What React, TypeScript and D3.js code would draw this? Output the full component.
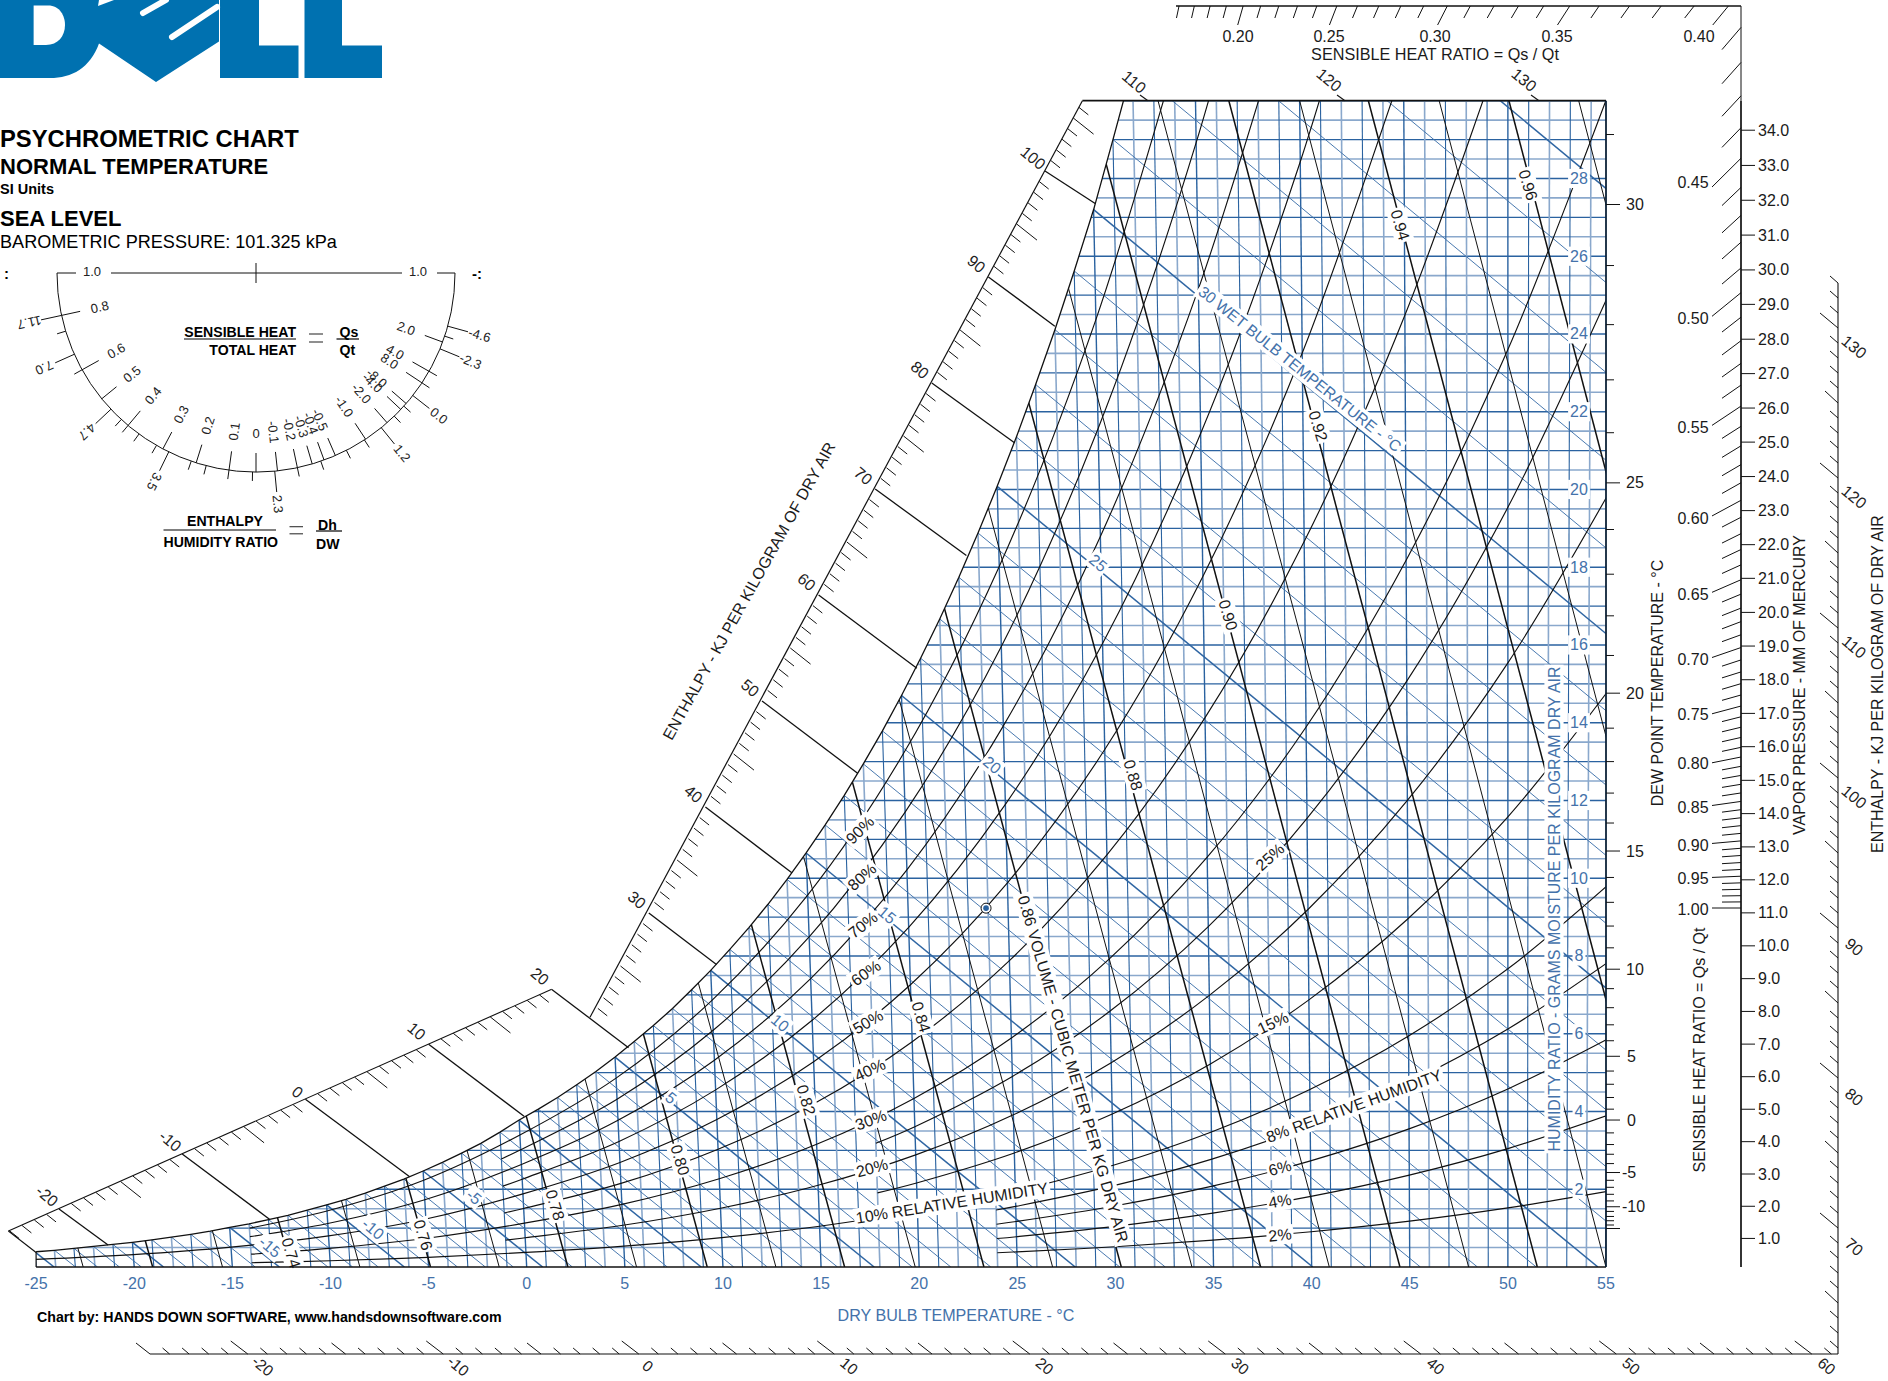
import React from "react";
import * as d3 from "d3";

// ---------- chart values ----------
const dryBulbTicks = [-25,-20,-15,-10,-5,0,5,10,15,20,25,30,35,40,45,50,55];
const humidityLabels = [2,4,6,8,10,12,14,16,18,20,22,24,26,28];
const satT = d3.range(-25, 36);
const satW = [.39,.43,.48,.53,.58,.635,.70,.77,.84,.92,1.02,1.11,1.22,1.33,1.46,1.60,1.74,1.90,2.08,2.26,2.47,2.69,2.93,3.18,3.47,3.78,4.06,4.36,4.69,5.03,5.40,5.80,6.21,6.65,7.13,7.63,8.17,8.73,9.33,9.97,10.65,11.37,12.13,12.94,13.79,14.70,15.66,16.67,17.74,18.88,20.08,21.35,22.70,24.11,25.62,27.20,29.0,30.85,32.7,34.6,36.6];

const tFrom25 = [-25,-20,-15,-10,-5,0,5,10,15,20,25,30,35,40,45,50,55];
const tFrom14 = [-14,-10,-5,0,5,10,15,20,25,30,35,40,45,50,55];
const tFrom1 = [-1,0,5,10,15,20,25,30,35,40,45,50,55];
const tFrom18 = [18,20,25,30,35,40,45,50,55];
const tFrom24 = [24,25,30,35,40,45,50,55];
const rh90 = [1.0,1.44,2.23,3.395,4.858,6.86,9.568,13.2,18.02,24.37,32.72];
const rh80 = [2.78,3.016,4.315,6.09,8.49,11.7,15.96,21.57,28.92,38.5];
const rh70 = [.78,1.12,1.73,2.637,3.772,5.32,7.416,10.215,13.92,18.79,25.16,33.42];
const rh60 = [2.08,2.259,3.23,4.556,6.346,8.735,11.9,16.04,21.44,28.43,37.45];
const rh50 = [.195,.318,.51,.8,1.235,1.882,2.69,3.793,5.28,7.26,9.88,13.31,17.76,23.51,30.9];
const rh40 = [1.39,1.505,2.15,3.03,4.216,5.796,7.88,10.6,14.13,18.66,24.48,31.86];
const rh30 = [.33,.48,.74,1.128,1.611,2.27,3.157,4.337,5.891,7.918,10.54,13.89,18.18,23.6,30.43];
const rh25 = [3.184,3.61,4.902,6.584,8.757,11.54,15.07,19.54,25.15];
const rh20 = [.69,.751,1.073,1.512,2.101,2.884,3.915,5.256,6.986,9.196,12,15.54,19.96];
const rh15 = [1.907,2.161,2.932,3.934,5.224,6.872,8.957,11.58,14.85];
const rh10 = [.11,.16,.247,.375,.536,.755,1.049,1.439,1.951,2.617,3.473,4.564,5.943,7.671,9.823];
const rh8 = [1.466,1.56,2.092,2.775,3.646,4.746,6.122,7.833];
const rh6 = [1.10,1.169,1.568,2.079,2.731,3.552,4.58,5.857];
const rh4 = [.733,.779,1.044,1.385,1.817,2.364,3.046,3.892];
const rh2 = [.366,.389,.521,.692,.907,1.179,1.52,1.94];

const volumes = [.71,.72,.73,.74,.75,.76,.77,.78,.79,.80,.81,.82,.83,.84,.85,.86,.87,.88,.89,.90,.91,.92,.93,.94,.95,.96,.97,.98];
const volumeTAtW0 = [-22.6,-19.06,-15.5,-12,-8.5,-4.9,-1.4,2.1,5.6,9.2,12.7,16.2,19.8,23.3,26.8,30.3,33.9,37.4,40.9,44.5,48,51.5,55,58.6,62.1,65.6,69.2,72.7];
const volumeTAtW30 = [-34.1,-30.8,-27.4,-24,-20.7,-17.3,-13.9,-10.6,-7.2,-3.8,-.45,2.9,6.3,9.65,13,16.4,19.8,23.1,26.5,29.9,33.2,36.6,40,43.3,46.7,50.05,53.4,56.8];

const enthalpyMain = [-20,-10,0,10,20,30,40,50,60,70,80,90,100];
const enthalpySatT = [-21.25,-12.95,-5.7,.26,5.7,10.3,14.25,17.7,20.8,23.4,25.9,28,30.1];
const enthalpySatW = [.565,1.23,2.32,3.88,5.64,7.78,10.14,12.7,15.4,18.3,21.2,24.2,27.35];
const topEnthalpy = [110,120,130];
const bottomEnthalpyLabels = [-20,-10,0,10,20,30,40,50,60];
const rightEnthalpyLabels = [70,80,90,100,110,120,130];

const dewT = d3.range(-15, 32);
const dewW = [.99,1.08,1.19,1.30,1.43,1.55,1.70,1.87,2.05,2.23,2.43,2.66,2.90,3.15,3.45,3.78,4.06,4.36,4.70,5.04,5.42,5.82,6.23,6.67,7.16,7.66,8.21,8.77,9.38,10.02,10.70,11.42,12.19,13.0,13.86,14.76,15.73,16.75,17.82,18.97,20.17,21.46,22.82,24.24,25.76,27.33,29.13];
const dewLabels = [-10,-5,0,5,10,15,20,25,30];
const vaporP = d3.range(1, 35);
const vaporW = [.735,1.562,2.392,3.224,4.058,4.895,5.733,6.574,7.417,8.261,9.109,9.959,10.806,11.662,12.518,13.384,14.24,15.106,15.972,16.838,17.714,18.58,19.456,20.332,21.218,22.094,22.98,23.865,24.761,25.647,26.543,27.439,28.335,29.241];
const shrKnots = [.16,.2,.25,.3,.35,.4,.5,.8,1];
const shrSlopeK = [.89,.877,.857,.838,.832,.81,.815,.8,.8];
const shrTop = ["0.20","0.25","0.30","0.35","0.40"];
const shrRight = ["0.45","0.50","0.55","0.60","0.65","0.70","0.75","0.80","0.85","0.90","0.95","1.00"];
const marker = { t: 23.9, w: 9.23 };

// protractor
const innerAngles = [167.7,150.9,140.8,130,117.9,107.5,97.8,90,83.8,78,73.6,70,66.5,56.6,48.8,43.3,41,33.5,29.6,20.3];
const innerLabels = ["0.8","0.6","0.5","0.4","0.3","0.2","0.1","0","-0.1","-0.2","-0.3","-0.4","-0.5","-1.0","-2.0","-4.0","-8.0","8.0","4.0","2.0"];
const outerAngles = [167.7,155.9,136.8,116,84.6,51,38,22.4,15.5];
const outerLabels = ["11.7","7.0","4.7","3.5","2.3","1.2","0.0","-2.3","-4.6"];
const outerMinor = [163,150.9,132.6,130,126,120,109,104.5,97.8,91,78,71,63,57,46,42,33.5,29.6,18.5];

// ---------- layout ----------
const W = 1888, H = 1381;
const x = d3.scaleLinear().domain([-25, 55]).range([36.1, 1606]);
const y = d3.scaleLinear().domain([0, 30]).range([1267, 100.7]);
const tilt = 0.00103;
const px = (t: number, w: number) => x(t) - (1267 - y(w)) * tilt * (50 - t);
const BLUE = "#2a62a0", PALE = "#8aa8cc", TXTBLUE = "#4472aa", INK = "#1a1a1a";
const FONT = "'Liberation Sans', Arial, sans-serif";
const wbSlope = 0.425;

const rhSeries: [number[], number[]][] = [[tFrom14,rh90],[tFrom1,rh80],[tFrom14,rh70],[tFrom1,rh60],[tFrom25,rh50],[tFrom1,rh40],[tFrom14,rh30],[tFrom18,rh25],[tFrom1,rh20],[tFrom18,rh15],[tFrom14,rh10],[tFrom24,rh8],[tFrom24,rh6],[tFrom24,rh4],[tFrom24,rh2]];

const curve = d3.line<[number, number]>().x(d => px(d[0], d[1])).y(d => y(d[1])).curve(d3.curveCatmullRom.alpha(0.5));
const straight = d3.line<[number, number]>().x(d => px(d[0], d[1])).y(d => y(d[1]));

const satPts = d3.zip(satT, satW) as [number, number][];
const clipPts = [...satPts.map(d => [px(d[0], d[1]), y(d[1])]), [1606, 0], [1606, 1267], [36.1, 1267]];

let ctx: CanvasRenderingContext2D | null = null;
function measure(s: string, size: number, weight = "normal") {
  if (!ctx) ctx = document.createElement("canvas").getContext("2d");
  ctx!.font = `${weight} ${size}px 'Liberation Sans', Arial`;
  return ctx!.measureText(s).width;
}

function Lab({ x: lx, y: ly, rot = 0, s, size = 16, fill = INK, bg = false, pad = 2, weight = "normal", anchor = "middle" }: any) {
  const w = measure(s, size, weight);
  return (
    <g transform={`translate(${lx},${ly}) rotate(${rot})`}>
      {bg && <rect x={-w / 2 - pad} y={-size * 0.6} width={w + 2 * pad} height={size * 1.2} fill="#fff" />}
      <text textAnchor={anchor} dominantBaseline="central" fontSize={size} fill={fill} fontWeight={weight} fontFamily={FONT}>{s}</text>
    </g>
  );
}
function Txt({ x: lx, y: ly, s, size, weight = "normal", anchor = "start" }: any) {
  return <text x={lx} y={ly} fontSize={size} fontWeight={weight} textAnchor={anchor} fill="#000" fontFamily={FONT}>{s}</text>;
}
const seg = (a: number, b: number, c: number, d: number, w = 1, col = "#111", key?: any) => <line key={key} x1={a} y1={b} x2={c} y2={d} stroke={col} strokeWidth={w} />;

// enthalpy axis position
const axLow = (h: number) => [59 + (h + 20) * 12.32, 1209 - (h + 20) * 5.49];
const axUp = (h: number) => [1045 - (100 - h) * 5.66, 171 + (100 - h) * 10.6];
const axPos = (h: number) => (h <= 20 ? axLow(h) : axUp(h));
const bottomX = (h: number) => 150 + (h + 25) * 19.55;
const rightY = (h: number) => 328 + (130 - h) * 15;

// label layouts (pixel placement of text only)
const wbLabelLayout: [string, number, number][] = [["25",1098,563],["20",992,765],["15",887,915],["10",780,1023],["5",671,1098],["-5",474,1197],["-10",373,1229],["-15",270,1247]];
const volLabelLayout: [string, number, number][] = [["0.74",291,1253],["0.76",423,1235],["0.78",555,1205],["0.80",680,1160],["0.82",806,1100],["0.84",921,1017],["0.88",1133,775],["0.90",1228,615],["0.92",1318,426],["0.94",1400,225],["0.96",1528,185]];
const rhLabelLayout: [string, number, number, number][] = [["90%",860,830,-45],["80%",862,877,-42],["70%",863,925,-38],["60%",866,973,-35],["50%",868,1022,-30],["40%",870,1070,-25],["30%",871,1120,-20],["20%",872,1168,-15],["25%",1270,857,-42],["15%",1273,1023,-25],["6%",1280,1168,-15],["4%",1280,1201,-10],["2%",1280,1235,-6]];
const shrTopPos = [1238,1329,1435,1557,1699];
const shrRightPos = [182,318,427,518,594,659,714,763,807,845,878,909];
const topEnthalpyPos: [number, number, number, number][] = [[1134,82,1140,95],[1329,80,1337,95],[1524,80,1531,95]];

export default function App() {
  const cx = 256, cy = 273, r = 199;
  const polar = (deg: number, rad: number) => [cx + rad * Math.cos(deg * Math.PI / 180), cy + rad * Math.sin(deg * Math.PI / 180)];
  const arc = d3.path(); arc.arc(cx, cy, r, 0, Math.PI);
  const pivot = [px(marker.t, marker.w), y(marker.w)];
  const pivotX = 986, pivotY = 908;
  const kScale = d3.scaleLinear().domain(shrKnots).range(shrSlopeK);
  const shrVals = d3.range(16, 101).map(v => v / 100);

  return (
    <div style={{ position: "absolute", left: 0, top: 0 }}>
      <svg width={W} height={H} viewBox={`0 0 ${W} ${H}`} style={{ display: "block", background: "#fff" }}>
        <defs>
          <clipPath id="sat"><polygon points={clipPts.map(p => p.join(",")).join(" ")} /></clipPath>
          <clipPath id="frame"><rect x={36.1} y={100.7} width={1606 - 36.1} height={1267 - 100.7} /></clipPath>
        </defs>

        {/* logo */}
        <g fill="#0071b0">
          <path d="M0,0 H219 V41.5 L156,82 L99,43.5 C90,68 72,78 50,78 H0 Z" />
          <path d="M220,0 H259 V45.5 H298.5 V78 H220 Z" />
          <path d="M304.5,0 H342 V45.5 H382 V78 H304.5 Z" />
        </g>
        <path d="M33.6,5.5 H48 C60,5.5 65,16 65,25 C65,36 58,45 46,45 H33.6 Z" fill="#fff" />
        <path d="M98,6 L114,0 H99 Z" fill="#fff" />
        <path d="M143,13 L166,0 M172,37 L217,7" stroke="#fff" strokeWidth={6} strokeLinecap="round" fill="none" />

        {/* titles */}
        <Txt x={0} y={147} s="PSYCHROMETRIC CHART" size={23.8} weight="bold" />
        <Txt x={0} y={174} s="NORMAL TEMPERATURE" size={22} weight="bold" />
        <Txt x={0} y={193.5} s="SI Units" size={14.5} weight="bold" />
        <Txt x={0} y={226} s="SEA LEVEL" size={22} weight="bold" />
        <Txt x={0} y={248} s="BAROMETRIC PRESSURE: 101.325 kPa" size={18.1} />

        {/* protractor */}
        <g>
          <path d={arc.toString()} fill="none" stroke="#111" strokeWidth={1} />
          {seg(57, 273, 76, 273)}{seg(111, 273, 402, 273)}{seg(437, 273, 455, 273)}{seg(256, 263, 256, 283)}
          <Lab x={92} y={271} s="1.0" size={13} fill="#222" />
          <Lab x={418} y={271} s="1.0" size={13} fill="#222" />
          <Txt x={4} y={279} s=":" size={15} weight="bold" />
          <Txt x={472} y={279} s="-:" size={15} weight="bold" />
          {innerAngles.map((a, i) => {
            const p = polar(a, r), q = polar(a, r - 19), l = polar(a, 160);
            return <g key={i}>{seg(p[0], p[1], q[0], q[1], 1)}<Lab x={l[0]} y={l[1]} rot={a > 90 ? a - 180 : a === 90 ? 0 : a} s={innerLabels[i]} size={13} fill="#222" /></g>;
          })}
          {outerAngles.map((a, i) => {
            const p = polar(a, r), q = polar(a, r + 21), l = polar(a, 232);
            return <g key={i}>{seg(p[0], p[1], q[0], q[1], 1)}<Lab x={l[0]} y={l[1]} rot={a} s={outerLabels[i]} size={13} fill="#222" /></g>;
          })}
          {outerMinor.map((a, i) => { const p = polar(a, r), q = polar(a, r + 9); return <React.Fragment key={i}>{seg(p[0], p[1], q[0], q[1], 1)}</React.Fragment>; })}
          <Txt x={296} y={337} s="SENSIBLE HEAT" size={14.1} weight="bold" anchor="end" />
          {seg(184, 339, 296, 339, 1.2, "#000")}
          <Txt x={296} y={355} s="TOTAL HEAT" size={14.1} weight="bold" anchor="end" />
          {seg(309, 334, 323, 334, 1.1, "#333")}{seg(309, 342, 323, 342, 1.1, "#333")}
          <Txt x={339.5} y={337} s="Qs" size={14.1} weight="bold" />
          {seg(336.5, 339, 359, 339, 1.2, "#000")}
          <Txt x={339.5} y={355} s="Qt" size={14.1} weight="bold" />
          <Txt x={187} y={526} s="ENTHALPY" size={14.1} weight="bold" />
          {seg(163.5, 530, 276, 530, 1.2, "#000")}
          <Txt x={163.5} y={546.5} s="HUMIDITY RATIO" size={14.1} weight="bold" />
          {seg(289.5, 526.7, 303, 526.7, 1.1, "#333")}{seg(289.5, 533.8, 303, 533.8, 1.1, "#333")}
          <Txt x={318} y={530} s="Dh" size={14.1} weight="bold" />
          {seg(316, 531, 342, 531, 1.2, "#000")}
          <Txt x={316} y={549} s="DW" size={14.1} weight="bold" />
        </g>

        {/* plot interior */}
        <g clipPath="url(#frame)">
          <g clipPath="url(#sat)">
            {d3.range(1, 61).map(i => {
              const w = i / 2, half = i % 2 === 1, even = i % 4 === 0;
              return <line key={i} x1={0} x2={1700} y1={y(w)} y2={y(w)} stroke={half ? PALE : BLUE} strokeWidth={half ? 1.6 : even ? 1.5 : 1.1} />;
            })}
            {d3.range(-25, 56).map(t => {
              const five = t % 5 === 0, even = t % 2 === 0;
              const pale = even && !five;
              return <path key={t} d={straight([[t, 0], [t, 32]])!} fill="none" stroke={pale ? PALE : BLUE} strokeWidth={pale ? 1.6 : five ? 1.4 : 1.1} />;
            })}
            {satT.map((t, i) => {
              const ws = satW[i];
              return <path key={t} d={straight([[t, ws], [t + ws / wbSlope, 0]])!} fill="none" stroke={t % 5 === 0 ? "#2f66a3" : "#3f72ab"} strokeWidth={t % 5 === 0 ? 1.5 : 0.95} />;
            })}
            {volumes.map((v, i) => (
              <path key={v} d={straight([[volumeTAtW0[i], 0], [volumeTAtW30[i], 30]])!} fill="none" stroke="#111" strokeWidth={i % 2 === 1 ? 1.5 : 1} />
            ))}
            {rhSeries.map(([ts, ws], i) => (
              <path key={i} d={curve(d3.zip(ts, ws) as [number, number][])!} fill="none" stroke="#111" strokeWidth={1.15} />
            ))}
          </g>
          <path d={d3.line<[number, number]>().x(d => px(d[0], d[1])).y(d => y(d[1]))(satPts)!} fill="none" stroke="#111" strokeWidth={1.3} />
        </g>

        {/* labels in plot */}
        {wbLabelLayout.map(([s, a, b]) => <Lab key={s} x={a} y={b} rot={40} s={s} fill={TXTBLUE} bg size={16} />)}
        <Lab x={1300} y={369} rot={38.7} s="30 WET BULB TEMPERATURE - °C" fill={TXTBLUE} bg size={15.7} />
        {volLabelLayout.map(([s, a, b]) => <Lab key={s} x={a} y={b} rot={73} s={s} bg size={16} />)}
        <Lab x={1073} y={1069} rot={73.8} s="0.86 VOLUME - CUBIC METER PER KG DRY AIR" bg size={16} />
        {rhLabelLayout.map(([s, a, b, c]) => <Lab key={s} x={a} y={b} rot={c} s={s} bg size={16} />)}
        <Lab x={952} y={1203} rot={-9} s="10% RELATIVE HUMIDITY" bg size={16} />
        <Lab x={1354} y={1106} rot={-20} s="8% RELATIVE HUMIDITY" bg size={16} />
        {humidityLabels.map(v => <Lab key={v} x={1579} y={y(v)} s={String(v)} fill={TXTBLUE} bg size={16} />)}
        <Lab x={1554} y={909} rot={-90} s="HUMIDITY RATIO - GRAMS MOISTURE PER KILOGRAM DRY AIR" fill={TXTBLUE} bg size={16} pad={1} />

        {/* marker */}
        <circle cx={pivot[0]} cy={pivot[1]} r={5} fill="#fff" stroke="#111" strokeWidth={1} />
        <circle cx={pivot[0]} cy={pivot[1]} r={2.8} fill={BLUE} />

        {/* frame */}
        {seg(1082.4, 100.7, 1606, 100.7, 1.7)}
        {seg(36.1, 1267, 1606, 1267, 1.7)}
        {seg(1606, 100.7, 1606, 1267, 1.8, "#0d2238")}
        {seg(36.1, y(.39), 36.1, 1267, 1.2)}

        {/* dry bulb axis */}
        {dryBulbTicks.map(t => <Lab key={t} x={x(t)} y={1283} s={String(t)} fill={TXTBLUE} size={16} />)}
        <Lab x={956} y={1315} s="DRY BULB TEMPERATURE - °C" fill={TXTBLUE} size={16.1} />
        <Txt x={37} y={1322} s="Chart by: HANDS DOWN SOFTWARE, www.handsdownsoftware.com" size={14.2} weight="bold" />

        {/* enthalpy left axis */}
        {seg(8.4, 1231, 551.7, 989.3, 1.1)}
        {seg(8.4, 1231, 36.1, 1252.5, 1.1)}
        {seg(590, 1017.3, 1082.4, 100.7, 1.2)}
        {d3.range(-24, 107).map(h => {
          if (h === 20 || h % 10 === 0) return null;
          const p = axPos(h), long = h % 5 === 0, l = long ? 26 : 12;
          return <React.Fragment key={h}>{seg(p[0], p[1], p[0] + .78 * l, p[1] + .62 * l, 1)}</React.Fragment>;
        })}
        {enthalpyMain.map((h, i) => {
          const p = axPos(h);
          const endX = px(enthalpySatT[i], enthalpySatW[i]), endY = y(enthalpySatW[i]);
          const nudge = h === 0 ? [4, 6] : [0, 0];
          return <g key={h}>{seg(p[0], p[1], endX, endY, 1.3)}<Lab x={p[0] - 12 + nudge[0]} y={p[1] - 13 + nudge[1]} rot={40} s={String(h)} size={16} fill="#222" /></g>;
        })}
        <Lab x={749} y={591} rot={-60.9} s="ENTHALPY - KJ PER KILOGRAM OF DRY AIR" size={16} />
        {topEnthalpy.map((h, i) => {
          const [a, b, c, d] = topEnthalpyPos[i];
          return <g key={h}>{seg(c, d, c + 8, 100.7, 1.1)}<Lab x={a} y={b} rot={40} s={String(h)} size={16} fill="#222" /></g>;
        })}

        {/* enthalpy bottom axis */}
        {seg(150, 1354, 1838, 1354, 1.1)}
        {d3.range(-25, 62).map(h => {
          const a = bottomX(h), m = h % 10 === 0, f = h % 5 === 0;
          const dx = m ? 17 : f ? 14 : 7, dy = m ? 13 : f ? 11 : 6;
          return <React.Fragment key={h}>{seg(a - dx, 1354 - dy, a, 1354, 1)}</React.Fragment>;
        })}
        {bottomEnthalpyLabels.map(h => <Lab key={h} x={bottomX(h) + (h === 0 ? 9 : 15)} y={1366} rot={40} s={String(h)} size={15.5} fill="#222" />)}

        {/* enthalpy right axis */}
        {seg(1838, 283, 1838, 1354, 1.1)}
        {d3.range(62, 134).map(h => {
          const b = rightY(h), m = h % 10 === 0, f = h % 5 === 0;
          const dx = m ? 18 : f ? 13 : 8, dy = m ? 15 : f ? 12 : 7;
          return <React.Fragment key={h}>{seg(1838 - dx, b - dy, 1838, b, 1)}</React.Fragment>;
        })}
        {rightEnthalpyLabels.map(h => <Lab key={h} x={1854} y={rightY(h) + 19} rot={40} s={String(h)} size={16} fill="#222" />)}
        <Lab x={1877} y={684} rot={-90} s="ENTHALPY - KJ PER KILOGRAM OF DRY AIR" size={16} />

        {/* dew point ticks */}
        {dewT.map((t, i) => {
          const major = t % 5 === 0;
          return <React.Fragment key={t}>{seg(1606, y(dewW[i]), 1606 + (major ? 14 : 8), y(dewW[i]), 1)}</React.Fragment>;
        })}
        {dewLabels.map(t => <Lab key={t} x={t < 0 ? 1622 : t < 10 ? 1627 : 1626} y={y(dewW[dewT.indexOf(t)])} s={String(t)} size={16} anchor="start" />)}
        <Lab x={1657} y={683} rot={-90} s="DEW POINT TEMPERATURE - °C" size={16} />

        {/* sensible heat ratio */}
        {seg(1176, 6, 1741, 6, 1.3)}
        {seg(1741, 6, 1741, 100.7, 1)}
        {seg(1741, 100.7, 1741, 1267, 1.7)}
        {shrVals.map(s => {
          const m = kScale(s) * (1 - s) / s;
          const long = Math.round(s * 100) % 5 === 0;
          const yr = pivotY - m * (1741 - pivotX);
          const reachX = long ? 29 : 19, reachY = long ? 19 : 12;
          if (yr >= 6) {
            return <React.Fragment key={s}>{seg(1741, yr, 1741 - reachX, yr + m * reachX, 1)}</React.Fragment>;
          }
          const xt = pivotX + (pivotY - 6) / m;
          return <React.Fragment key={s}>{seg(xt, 6, xt - reachY / m, 6 + reachY, 1)}</React.Fragment>;
        })}
        {shrTop.map((s, i) => <Lab key={s} x={shrTopPos[i]} y={36} s={s} size={16} />)}
        {shrRight.map((s, i) => <Lab key={s} x={1693} y={shrRightPos[i]} s={s} size={16} />)}
        <Lab x={1435} y={54} s="SENSIBLE HEAT RATIO = Qs / Qt" size={16.2} />
        <Lab x={1699} y={1050} rot={-90} s="SENSIBLE HEAT RATIO = Qs / Qt" size={16} />

        {/* vapor pressure */}
        {vaporP.map((p, i) => (
          <g key={p}>
            {seg(1741, y(vaporW[i]), 1755, y(vaporW[i]), 1)}
            <Lab x={1758} y={y(vaporW[i])} s={`${p}.0`} size={16} anchor="start" />
          </g>
        ))}
        <Lab x={1799} y={685} rot={-90} s="VAPOR PRESSURE - MM OF MERCURY" size={16} />
      </svg>
    </div>
  );
}
